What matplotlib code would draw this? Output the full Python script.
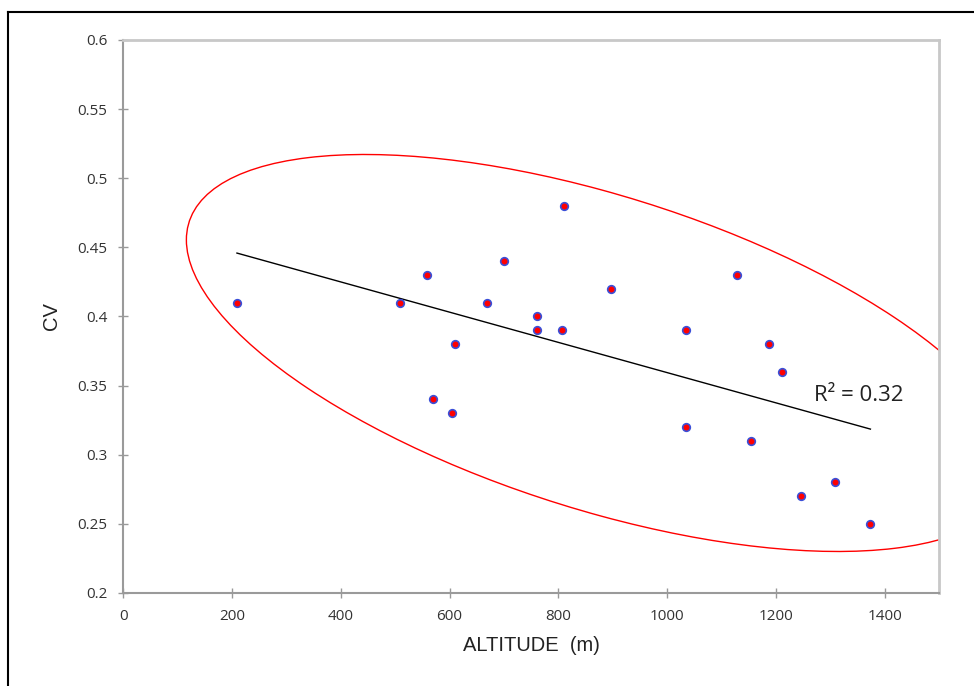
import matplotlib.pyplot as plt
import numpy as np
from matplotlib.patches import Circle
from matplotlib.transforms import Affine2D
from matplotlib.lines import Line2D

# altitude (m) and coefficient of variation
altitude = [209, 508, 558, 569, 604, 610, 668, 701, 760, 760, 806,
            810, 896, 1034, 1034, 1128, 1155, 1187, 1212, 1247, 1308, 1374]
cv = [0.41, 0.41, 0.43, 0.34, 0.33, 0.38, 0.41, 0.44, 0.40, 0.39, 0.39,
      0.48, 0.42, 0.39, 0.32, 0.43, 0.31, 0.38, 0.36, 0.27, 0.28, 0.25]

x_ticks = [0, 200, 400, 600, 800, 1000, 1200, 1400]
y_ticks = [0.2, 0.25, 0.3, 0.35, 0.4, 0.45, 0.5, 0.55, 0.6]
y_tick_labels = ["0.2", "0.25", "0.3", "0.35", "0.4", "0.45", "0.5", "0.55", "0.6"]

# hand drawn ellipse around the points: centre and two conjugate half axes
ell_center = (879, 0.3736)
ell_u = (-763, 0.0818)
ell_v = (0, 0.118)

fig = plt.figure(figsize=(9.74, 6.86), dpi=100)
ax = fig.add_axes([0.1266, 0.1356, 0.8374, 0.8061])

x = np.array(altitude)
y = np.array(cv)
ax.scatter(x, y, s=30, c="red", edgecolors="#3a4fd8", linewidths=1.2, zorder=3)

# linear trendline
slope, inter = np.polyfit(x, y, 1)
xs = np.array([x.min(), x.max()])
ax.plot(xs, slope * xs + inter, color="black", lw=1)

ring = Circle((0, 0), 1, fill=False, edgecolor="red", lw=1,
              transform=Affine2D([[ell_u[0], ell_v[0], ell_center[0]],
                                  [ell_u[1], ell_v[1], ell_center[1]],
                                  [0, 0, 1]]) + ax.transData)
ax.add_patch(ring)

ax.text(1271, 0.339, "R² = 0.32", fontsize=16, family="Open Sans", color="#222222")

ax.set_xlim(0, 1500)
ax.set_ylim(0.2, 0.6)
ax.set_xticks(x_ticks)
ax.set_yticks(y_ticks)
ax.set_yticklabels(y_tick_labels)
ax.tick_params(direction="inout", length=7, width=1, color="#999999",
               labelsize=11, labelcolor="#333333", pad=8)
for lab in ax.get_xticklabels() + ax.get_yticklabels():
    lab.set_family("Open Sans")

for side in ["left", "bottom"]:
    ax.spines[side].set_color("#9a9a9a")
    ax.spines[side].set_linewidth(1.5)
for side in ["top", "right"]:
    ax.spines[side].set_color("#c8c8c8")
    ax.spines[side].set_linewidth(2)

ax.set_xlabel("ALTITUDE  (m)", fontsize=14.5, family="Liberation Sans",
              color="#222222", labelpad=9)
ax.set_ylabel("CV", fontsize=14.5, family="Liberation Sans",
              color="#222222", labelpad=12)

# outer frame of the picture (only left and top edges visible)
fig.add_artist(Line2D([8 / 974, 8 / 974], [0, 1 - 11.5 / 686], color="black", lw=1.5))
fig.add_artist(Line2D([8 / 974, 1], [1 - 11.5 / 686, 1 - 11.5 / 686], color="black", lw=1.5))

fig.savefig("out.png", dpi=100)
